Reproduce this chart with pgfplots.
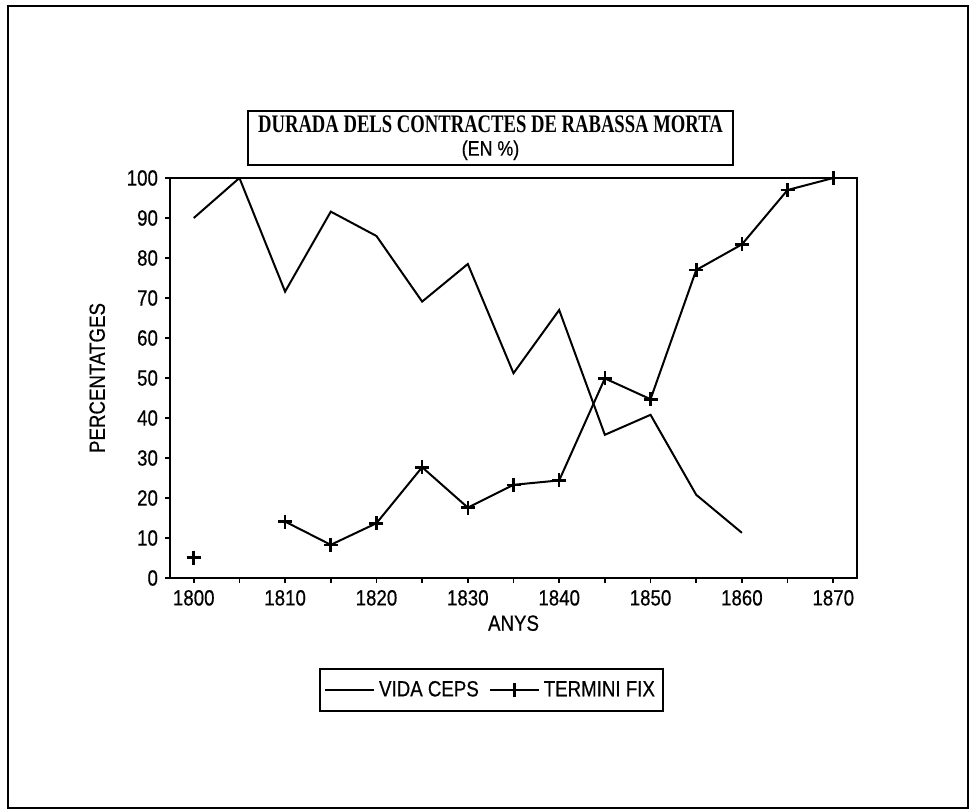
\documentclass[border=0pt]{standalone}
\usepackage{fontspec}
\setmainfont{Liberation Sans}[FakeStretch=0.85, FakeBold=0.5]
\newfontfamily\titlefont{Liberation Serif}[FakeStretch=0.74]
\usepackage{pgfplots}
\pgfplotsset{compat=1.18}

% 1 px of the reference = 0.5pt
\pgfplotstableread{
year vida
1800 90
1805 100
1810 71.6
1815 91.6
1820 85.5
1825 69.1
1830 78.5
1835 51.2
1840 67
1845 35.8
1850 40.8
1855 20.8
1860 11.3
}\vidaceps

\pgfplotstableread{
year fix
1800 5.1
1805 nan
1810 14.1
1815 8.3
1820 13.7
1825 27.7
1830 17.6
1835 23.3
1840 24.4
1845 49.9
1850 44.7
1855 77
1860 83.4
1865 97
1870 100
}\terminifix

\begin{document}
\begin{tikzpicture}
% page size and outer frame
\path (-85pt,-116.5pt) rectangle (400pt,289pt);
\draw[line width=1.2pt] (-81pt,-115pt) rectangle (399pt,286pt);

\begin{axis}[
    scale only axis,
    width=343.5pt, height=200pt,
    xmin=1797.4, xmax=1872.6,
    ymin=0, ymax=100,
    xtick={1800,1810,...,1870},
    minor xtick={1805,1815,...,1865},
    ytick={0,10,...,100},
    tick pos=left,
    tick align=outside,
    major tick length=2.5pt,
    minor tick length=2.5pt,
    every tick/.style={black, line width=0.8pt},
    axis line style={line width=1pt},
    /pgf/number format/assume math mode=true,
    xticklabel style={/pgf/number format/1000 sep={}},
    ticklabel style={font=\fontsize{11}{12}\selectfont},
    label style={font=\fontsize{11}{12}\selectfont},
    xlabel={ANYS},
    ylabel={PERCENTATGES},
    xlabel style={yshift=2pt},
    ylabel style={yshift=4pt},
    unbounded coords=jump,
    title={{\titlefont\bfseries\fontsize{12.6}{13}\selectfont DURADA DELS CONTRACTES DE RABASSA MORTA}\\[-0.5pt]{\fontsize{10.5}{11}\selectfont (EN \%)}},
    title style={draw, line width=1pt, align=center, inner sep=0.5pt,
        minimum width=242.5pt, minimum height=27pt,
        at={(axis description cs:0.4665,1)}, anchor=south, yshift=0pt},
    legend columns=2,
    legend style={at={(axis description cs:0.468,-0.225)}, anchor=north,
        draw=black, line width=1pt, font=\fontsize{11}{12}\selectfont,
        inner xsep=2pt, inner ysep=4pt,
        /tikz/every even column/.append style={column sep=3pt}},
    legend cell align=left,
    legend image code/.code={\draw[mark repeat=2,mark phase=2,#1]
        plot coordinates {(0cm,0cm) (0.43cm,0cm) (0.86cm,0cm)};},
]
\addplot[black, line width=1pt, mark=none] table[x=year, y=vida] {\vidaceps};
\addlegendentry{VIDA CEPS}
\addplot[black, line width=1pt, mark=+, mark size=3.5pt,
    mark options={line width=1.3pt}] table[x=year, y=fix] {\terminifix};
\addlegendentry{TERMINI FIX}
\end{axis}
\end{tikzpicture}
\end{document}
